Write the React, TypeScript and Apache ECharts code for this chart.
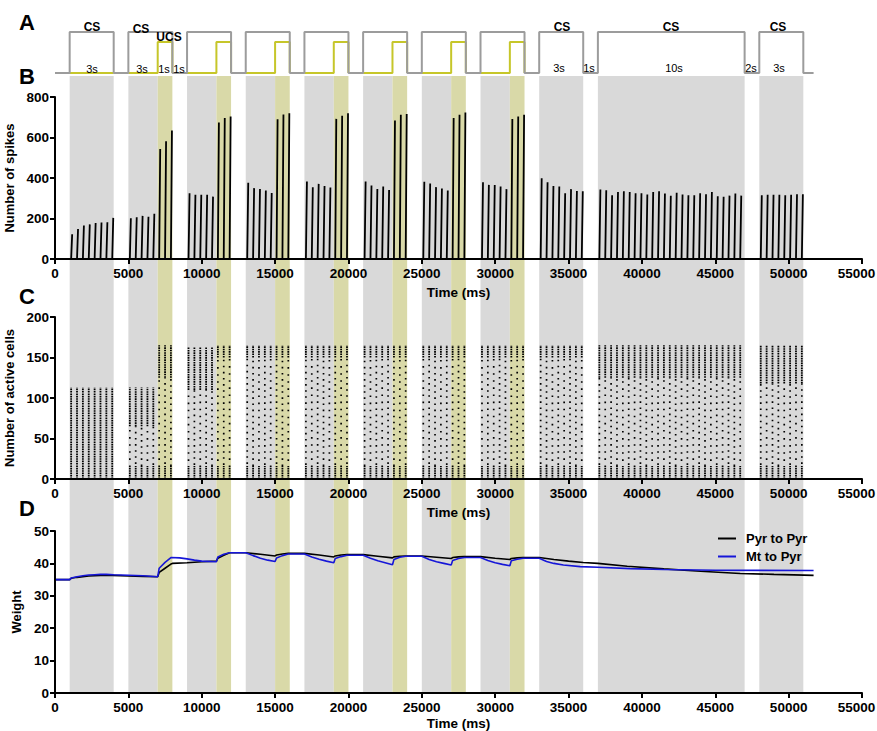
import React, { useEffect, useRef } from 'react';
import * as echarts from 'echarts';

// ---------------- DATA ----------------
// Protocol boxes (CS onset .. end of trial), ms
const trialBoxes: number[][] = [
  [1000, 4000], [5000, 8000], [9000, 12000], [13000, 16000], [17000, 20000],
  [21000, 24000], [25000, 28000], [29000, 32000], [33000, 36000], [37000, 47000], [48000, 51000],
];
// UCS onset inside each box (null = CS only)
const ucsOnset: (number | null)[] = [null, 7000, 11000, 15000, 19000, 23000, 27000, 31000, null, null, null];
// boxes that carry the yellow (UCS) trace in panel A
const yellowTraceBoxes = 8;
const protocolEnd = 51700;

// Spike bursts: one burst every 400 ms starting 100 ms after box onset
const burstOffset = 100;
const burstStep = 400;
const spikePeaks: number[][] = [
  [122, 148, 165, 171, 178, 180, 181, 203],
  [201, 206, 213, 209, 223, 543, 581, 635],
  [325, 317, 317, 317, 308, 674, 696, 704],
  [376, 350, 346, 338, 326, 690, 714, 720],
  [383, 354, 371, 361, 353, 692, 707, 720],
  [383, 363, 346, 358, 341, 684, 712, 716],
  [381, 373, 355, 348, 338, 696, 712, 724],
  [379, 366, 365, 358, 345, 691, 704, 712],
  [399, 379, 360, 358, 325, 345, 336, 335],
  [343, 340, 315, 331, 335, 331, 325, 325, 318, 331, 335, 323, 312, 327, 318, 315, 315, 325, 320, 331, 310, 307, 313, 323, 313],
  [315, 317, 317, 317, 315, 317, 320, 320],
];

// Active cells per burst column: max cell index, and where the dense top band starts
const activeMaxCS = [113, 113, 163, 165, 165, 165, 165, 165, 165, 165, 165];
const activeMaxUCS: (number | null)[] = [null, 165, 165, 165, 165, 165, 165, 165, null, null, null];
const denseFromCS = [0, 65, 110, 150, 150, 150, 150, 150, 150, 125, 118];
const denseFromUCS: (number | null)[] = [null, 125, 150, 150, 150, 150, 150, 150, null, null, null];
const denseBottom = 16;

// Panel D weights [time ms, weight]
const pyrToPyr: number[][] = [
  [0, 35], [1000, 35], [1100, 35.4], [1500, 35.7], [1900, 35.9], [2300, 36.1], [2700, 36.2], [3100, 36.3],
  [3900, 36.3], [5000, 36.1], [6000, 36.0], [7000, 35.9], [7100, 37.2], [7500, 38.5], [7900, 39.8],
  [8000, 40.0], [9000, 40.2], [10000, 40.5], [11000, 40.7], [11100, 41.6], [11500, 42.5], [11900, 43.3],
  [13000, 43.3], [14000, 42.8], [15000, 42.3], [15100, 42.6], [15500, 42.9], [15900, 43.1], [17000, 43.1],
  [18000, 42.6], [19000, 42.0], [19100, 42.3], [19500, 42.6], [19900, 42.7], [21000, 42.7], [22000, 42.2],
  [23000, 41.7], [23100, 42.0], [23500, 42.2], [23900, 42.3], [25000, 42.3], [26000, 41.9], [27000, 41.5],
  [27100, 41.8], [27500, 42.0], [27900, 42.1], [29000, 42.1], [30000, 41.6], [31000, 41.2], [31100, 41.5],
  [31500, 41.7], [31900, 41.8], [33000, 41.8], [34000, 41.2], [35000, 40.7], [36000, 40.3], [37000, 40.0],
  [39000, 39.1], [41500, 38.3], [44000, 37.6], [46700, 36.9], [49000, 36.6], [51700, 36.3],
];
const mtToPyr: number[][] = [
  [0, 35], [1000, 35], [1100, 35.5], [1500, 35.9], [1900, 36.2], [2300, 36.4], [2700, 36.5], [3100, 36.6],
  [3500, 36.6], [4000, 36.5], [6000, 36.2], [7000, 35.9], [7100, 38.5], [7500, 40.3], [7900, 41.8],
  [8500, 41.7], [9000, 41.4], [9500, 41.0], [10000, 40.7], [11000, 40.5], [11100, 42.0], [11500, 42.8],
  [11900, 43.3], [13000, 43.3], [13500, 42.4], [14000, 41.6], [14500, 41.0], [15000, 40.6], [15100, 41.7],
  [15500, 42.4], [15900, 42.9], [17000, 42.9], [17500, 42.0], [18000, 41.3], [18500, 40.7], [19000, 40.2],
  [19100, 41.5], [19500, 42.1], [19900, 42.5], [21000, 42.5], [21500, 41.6], [22000, 40.8], [22500, 40.2],
  [23000, 39.6], [23100, 41.2], [23500, 41.9], [23900, 42.2], [25000, 42.2], [25500, 41.2], [26000, 40.5],
  [26500, 40.0], [27000, 39.5], [27100, 40.9], [27500, 41.5], [27900, 41.8], [29000, 41.8], [29500, 40.9],
  [30000, 40.2], [30500, 39.7], [31000, 39.3], [31100, 40.8], [31500, 41.3], [31900, 41.6], [33000, 41.6],
  [33500, 40.6], [34000, 40.0], [34650, 39.5], [35800, 39.0], [37000, 38.8], [39200, 38.4], [41500, 38.1],
  [45000, 37.9], [51700, 37.8],
];

const xTicks = [0, 5000, 10000, 15000, 20000, 25000, 30000, 35000, 40000, 45000, 50000, 55000];

// ---------------- STYLE ----------------
const FONT = '"Liberation Sans", Arial, Helvetica, sans-serif';
const GRAY_BAND = '#d9d9d9';
const YELLOW_BAND = '#d9d9a8';
const GRAY_LINE = '#9c9c9c';
const YELLOW_LINE = '#c6c62a';
const UCS_LEVEL = 0.756;
const LEFT = 55;
const RIGHT = 15;
const SPARSE_OFFSETS = [0, 2.3, 4.6, 1.2, 3.5];

function buildOption() {
  const spikeLines: any[] = [];
  const denseCols: any[] = [];
  const sparseCols: any[][] = SPARSE_OFFSETS.map(() => []);
  let col = 0;
  trialBoxes.forEach((box, bi) => {
    spikePeaks[bi].forEach((peak, k) => {
      const t = box[0] + burstOffset + k * burstStep;
      spikeLines.push([t, 0], [t + 70, peak], [t + 70, '-']);
      const inUcs = ucsOnset[bi] !== null && t >= (ucsOnset[bi] as number);
      const top = inUcs ? (activeMaxUCS[bi] as number) : activeMaxCS[bi];
      const dFrom = inUcs ? (denseFromUCS[bi] as number) : denseFromCS[bi];
      denseCols.push([t, dFrom], [t, top], [t, '-']);
      denseCols.push([t, 0], [t, denseBottom], [t, '-']);
      if (dFrom > denseBottom) sparseCols[col % SPARSE_OFFSETS.length].push([t, denseBottom], [t, dFrom], [t, '-']);
      col++;
    });
  });

  const grayTrace: any[] = [[0, 0]];
  trialBoxes.forEach(([s, e]) => grayTrace.push([s, 0], [s, 1], [e, 1], [e, 0]));
  grayTrace.push([protocolEnd, 0]);
  const yellowTrace: any[] = [];
  trialBoxes.slice(0, yellowTraceBoxes).forEach(([s, e], bi) => {
    const u = ucsOnset[bi];
    if (u === null) yellowTrace.push([s, 0], [e, 0], [e, '-']);
    else yellowTrace.push([s, 0], [u, 0], [u, UCS_LEVEL], [e, UCS_LEVEL], [e, 0], [e, '-']);
  });

  const bands: any[] = [];
  trialBoxes.forEach(([s, e], bi) => {
    const u = ucsOnset[bi];
    bands.push([{ xAxis: s, itemStyle: { color: GRAY_BAND } }, { xAxis: u === null ? e : u }]);
    if (u !== null) bands.push([{ xAxis: u, itemStyle: { color: YELLOW_BAND } }, { xAxis: e }]);
  });

  const labelStyle = { color: '#000', fontWeight: 'bold', fontSize: 13.5, fontFamily: FONT };
  const axisLine = { show: true, onZero: false, lineStyle: { color: '#000', width: 2 } };
  const axisTick = { show: true, length: 5, lineStyle: { color: '#000', width: 2 } };
  const lastTick = xTicks[xTicks.length - 1];

  const hiddenX = (g: number) => ({ type: 'value', gridIndex: g, min: 0, max: 55000, show: false });
  const timeX = (g: number, nameGap: number) => ({
    type: 'value', gridIndex: g, min: 0, max: 55000, interval: 5000, z: 10,
    axisLine, axisTick, splitLine: { show: false },
    axisLabel: {
      ...labelStyle, margin: 7,
      formatter: (v: number) => (v === lastTick ? `{last|${v}}` : xTicks.includes(v) ? String(v) : ''),
      rich: { last: { ...labelStyle, padding: [0, 11, 0, 0] } },
    },
    name: 'Time (ms)', nameLocation: 'middle', nameGap, nameTextStyle: { ...labelStyle },
  });
  const valY = (g: number, max: number, interval: number, name: string) => ({
    type: 'value', gridIndex: g, min: 0, max, interval, z: 10,
    axisLine, axisTick, splitLine: { show: false },
    axisLabel: { ...labelStyle, margin: 6 },
    name, nameLocation: 'middle', nameGap: 25, nameRotate: 90,
    nameTextStyle: { color: '#000', fontWeight: 'bold', fontSize: 13, fontFamily: FONT },
  });

  const txt = (text: string, x: number, y: number, size: number, bold: boolean) => ({
    type: 'text', x, y, z: 100,
    style: {
      text, fill: '#000', font: `${bold ? 'bold ' : ''}${size}px ${FONT}`,
      textAlign: 'center', textVerticalAlign: 'middle', verticalAlign: 'middle',
    },
  });
  const grid = (top: number, height: number) => ({
    left: LEFT, right: RIGHT, top, height, containLabel: false, outerBoundsMode: 'none',
  });

  return {
    animation: false,
    backgroundColor: '#fff',
    grid: [grid(76, 617), grid(32, 41), grid(97, 162), grid(317, 162), grid(531, 162)],
    xAxis: [hiddenX(0), hiddenX(1), timeX(2, 26), timeX(3, 26), timeX(4, 23)],
    yAxis: [
      { type: 'value', gridIndex: 0, min: 0, max: 1, show: false },
      { type: 'value', gridIndex: 1, min: 0, max: 1, show: false },
      valY(2, 800, 200, 'Number of spikes'),
      valY(3, 200, 50, 'Number of active cells'),
      valY(4, 50, 10, 'Weight'),
    ],
    legend: {
      data: ['Pyr to Pyr', 'Mt to Pyr'], orient: 'vertical', left: 713, top: 527,
      icon: 'rect', itemWidth: 18, itemHeight: 2, itemGap: 5,
      textStyle: { color: '#000', fontWeight: 'bold', fontSize: 13, fontFamily: FONT, padding: [0, 0, 0, 5] },
    },
    graphic: [
      txt('A', 27, 22, 22, true), txt('B', 27, 76, 22, true), txt('C', 27, 296, 22, true), txt('D', 27, 508, 22, true),
      txt('CS', 92, 27, 12, true), txt('CS', 141, 29, 12, true), txt('UCS', 169, 37, 12, true),
      txt('CS', 562, 27, 12, true), txt('CS', 671, 27, 12, true), txt('CS', 778, 27, 12, true),
      txt('3s', 92, 69, 11, false), txt('3s', 142, 69, 11, false), txt('1s', 164, 69, 11, false), txt('1s', 179, 69, 11, false),
      txt('3s', 559, 68, 11, false), txt('1s', 589, 68, 11, false), txt('10s', 674, 68, 11, false),
      txt('2s', 751, 68, 11, false), txt('3s', 779, 68, 11, false),
    ],
    series: [
      {
        name: 'bands', type: 'line', xAxisIndex: 0, yAxisIndex: 0, data: [[0, 0]], z: -5,
        symbol: 'none', lineStyle: { opacity: 0 }, silent: true,
        markArea: { silent: true, z: -5, data: bands },
      },
      {
        name: 'UCS trace', type: 'line', xAxisIndex: 1, yAxisIndex: 1, data: yellowTrace, symbol: 'none',
        lineStyle: { color: YELLOW_LINE, width: 2 }, z: 3,
      },
      {
        name: 'CS trace', type: 'line', xAxisIndex: 1, yAxisIndex: 1, data: grayTrace, symbol: 'none',
        lineStyle: { color: GRAY_LINE, width: 2 }, z: 4,
      },
      {
        name: 'spikes', type: 'line', xAxisIndex: 2, yAxisIndex: 2, data: spikeLines, symbol: 'none',
        lineStyle: { color: '#000', width: 1.8 }, connectNulls: false,
      },
      {
        name: 'cells dense', type: 'line', xAxisIndex: 3, yAxisIndex: 3, data: denseCols, symbol: 'none',
        lineStyle: { color: '#000', width: 1.8, type: [1.6, 0.8] }, connectNulls: false,
      },
      ...sparseCols.map((d, i) => ({
        name: 'cells sparse ' + i, type: 'line', xAxisIndex: 3, yAxisIndex: 3, data: d, symbol: 'none',
        lineStyle: { color: '#000', width: 1.7, type: [1.6, 4.5 + (i % 2)], dashOffset: SPARSE_OFFSETS[i] },
        connectNulls: false,
      })),
      {
        name: 'Pyr to Pyr', type: 'line', xAxisIndex: 4, yAxisIndex: 4, data: pyrToPyr, symbol: 'none',
        color: '#000', lineStyle: { color: '#000', width: 1.6 },
      },
      {
        name: 'Mt to Pyr', type: 'line', xAxisIndex: 4, yAxisIndex: 4, data: mtToPyr, symbol: 'none',
        color: '#1616d8', lineStyle: { color: '#1616d8', width: 1.6 },
      },
    ],
  };
}

export default function App() {
  const ref = useRef<HTMLDivElement>(null);
  useEffect(() => {
    if (!ref.current) return;
    const chart = echarts.init(ref.current, undefined, { renderer: 'svg' });
    chart.setOption(buildOption() as any);
    return () => chart.dispose();
  }, []);
  return (
    <div
      ref={ref}
      style={{ position: 'fixed', left: 0, top: 0, width: 877, height: 731, background: '#fff' }}
    />
  );
}
